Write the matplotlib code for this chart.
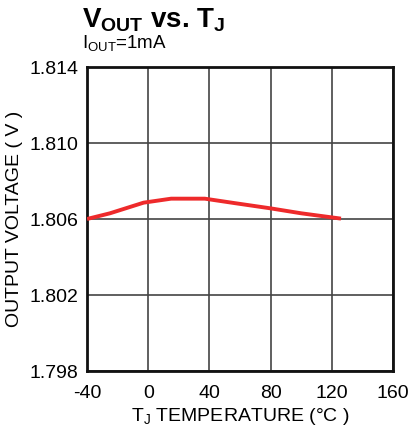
import matplotlib
matplotlib.use("Agg")
import matplotlib.pyplot as plt

plt.rcParams['font.family'] = ['Liberation Sans', 'DejaVu Sans']
plt.rcParams['mathtext.fontset'] = 'custom'
plt.rcParams['mathtext.rm'] = 'Liberation Sans'
plt.rcParams['mathtext.it'] = 'Liberation Sans'
plt.rcParams['mathtext.bf'] = 'Liberation Sans:bold'

temps = [-40, -25, -3, 15, 37, 57, 80, 100, 126]
vout = [1.80600, 1.80630, 1.80686, 1.80707, 1.80707, 1.80683, 1.80656, 1.80630, 1.80602]
xticks = [-40, 0, 40, 80, 120, 160]
yticks = [1.798, 1.802, 1.806, 1.810, 1.814]

fig = plt.figure(figsize=(4.13, 4.32), dpi=100)
ax = fig.add_axes([87/413, 1-371/432, 306/413, 304/432])
ax.plot(temps, vout, color='#ee2a2b', lw=2.8, solid_capstyle='butt', zorder=3)
ax.set_xlim(-40, 160)
ax.set_ylim(1.798, 1.814)
ax.set_xticks(xticks)
ax.set_xticklabels([str(t) for t in xticks])
ax.set_yticks(yticks)
ax.set_yticklabels([f"{v:.3f}" for v in yticks])
ax.grid(True, color='#444444', lw=1.2)
ax.tick_params(length=0, labelsize=14)
ax.tick_params(axis='x', pad=10)
ax.tick_params(axis='y', pad=6)
for s in ax.spines.values():
    s.set_linewidth(2)
    s.set_color('#111111')
ax.set_xlabel(r'T$_\mathrm{J}$ TEMPERATURE (°C )', fontsize=14, labelpad=3)
ax.set_ylabel('OUTPUT VOLTAGE ( V )', fontsize=14, labelpad=5)

fig.text(82/413, 1-28/432, r'$\mathbf{V_{OUT}}$ vs. T$_\mathbf{J}$', fontsize=20,
         fontweight='bold', va='baseline', ha='left')
fig.text(82/413, 1-48/432, r'I$_\mathrm{OUT}$=1mA', fontsize=13.5, va='baseline', ha='left')

fig.savefig('out.png', dpi=100)
